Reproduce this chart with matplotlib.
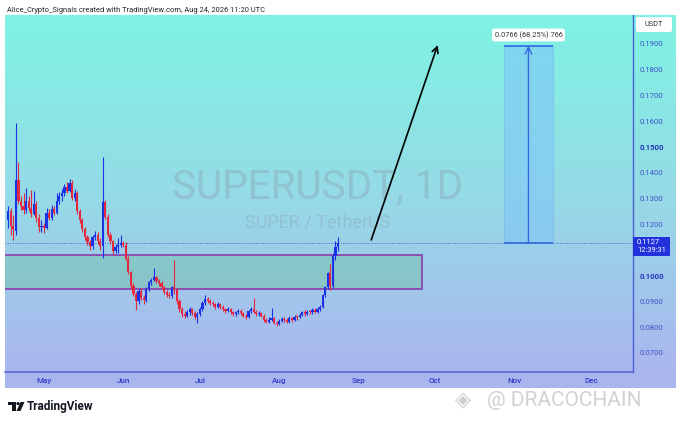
import numpy as np
import pandas as pd
import matplotlib
matplotlib.use('Agg')
import matplotlib.pyplot as plt
import matplotlib.dates as mdates
from matplotlib.patches import Rectangle, FancyBboxPatch, Polygon, Circle
from matplotlib.colors import LinearSegmentedColormap

# ---------------- data (daily SUPER/USDT candles) ----------------
start_date = "2026-04-17"
opens = [.1215, .1250, .1195, .1175, .1372, .1290, .1270, .1255, .1290, .1265,
         .1240, .1280, .1225, .1190, .1195, .1185, .1245, .1225, .1260, .1245,
         .1290, .1310, .1320, .1345, .1330, .1360, .1300, .1320, .1250, .1215,
         .1180, .1150, .1130, .1115, .1150, .1160, .1135, .1115, .1285, .1230,
         .1160, .1135, .1095, .1110, .1120, .1128, .1120, .1065, .1015, .0960,
         .0930, .0900, .0940, .0915, .0905, .0950, .0975, .0985, .0995, .0980,
         .0970, .0955, .0935, .0925, .0920, .0955, .0945, .0900, .0870, .0850,
         .0845, .0860, .0870, .0855, .0840, .0850, .0870, .0895, .0910, .0900,
         .0895, .0890, .0880, .0890, .0878, .0870, .0862, .0870, .0858, .0850,
         .0858, .0865, .0855, .0845, .0840, .0862, .0872, .0860, .0850, .0855,
         .0845, .0830, .0822, .0830, .0835, .0818, .0812, .0825, .0832, .0828,
         .0820, .0835, .0828, .0840, .0838, .0848, .0858, .0850, .0860, .0858,
         .0868, .0860, .0870, .0880, .0925, .0955, .1010, .0960, .1075, .1110]
highs = [.1270, .1265, .1235, .1593, .1442, .1310, .1320, .1340, .1310, .1333,
         .1330, .1290, .1240, .1215, .1205, .1265, .1260, .1275, .1270, .1320,
         .1325, .1335, .1355, .1365, .1375, .1370, .1335, .1330, .1260, .1225,
         .1190, .1160, .1140, .1160, .1175, .1168, .1145, .1461, .1295, .1240,
         .1170, .1140, .1125, .1145, .1158, .1135, .1130, .1075, .1020, .0970,
         .0935, .0950, .0948, .0925, .0958, .0980, .0990, .1030, .1000, .0988,
         .0978, .0962, .0945, .0935, .0962, .1061, .0952, .0910, .0880, .0862,
         .0868, .0878, .0876, .0862, .0858, .0878, .0900, .0925, .0918, .0908,
         .0902, .0896, .0898, .0895, .0885, .0876, .0878, .0875, .0864, .0865,
         .0872, .0870, .0860, .0852, .0868, .0880, .0914, .0866, .0862, .0860,
         .0850, .0836, .0838, .0875, .0840, .0825, .0832, .0840, .0838, .0835,
         .0842, .0840, .0848, .0846, .0855, .0865, .0868, .0866, .0868, .0875,
         .0874, .0878, .0888, .0930, .0960, .1015, .1045, .1090, .1135, .1150]
lows = [.1185, .1160, .1140, .1160, .1280, .1255, .1240, .1245, .1250, .1230,
        .1235, .1210, .1170, .1170, .1165, .1180, .1215, .1215, .1235, .1240,
        .1280, .1290, .1310, .1320, .1325, .1295, .1290, .1240, .1205, .1170,
        .1140, .1120, .1100, .1105, .1140, .1125, .1100, .1069, .1220, .1150,
        .1125, .1085, .1088, .1090, .1110, .1110, .1060, .1005, .0950, .0920,
        .0867, .0890, .0905, .0890, .0898, .0940, .0965, .0978, .0972, .0962,
        .0948, .0928, .0918, .0912, .0915, .0930, .0892, .0860, .0838, .0835,
        .0838, .0848, .0848, .0832, .0815, .0845, .0865, .0888, .0895, .0888,
        .0882, .0872, .0875, .0872, .0862, .0855, .0858, .0850, .0842, .0845,
        .0852, .0848, .0838, .0832, .0836, .0855, .0855, .0842, .0845, .0838,
        .0822, .0815, .0818, .0825, .0812, .0805, .0808, .0820, .0822, .0815,
        .0816, .0822, .0824, .0830, .0834, .0842, .0845, .0846, .0850, .0852,
        .0855, .0856, .0865, .0875, .0918, .0948, .0945, .0952, .1060, .1095]
closes = [.1250, .1195, .1180, .1372, .1290, .1270, .1255, .1290, .1265, .1240,
          .1280, .1225, .1190, .1195, .1185, .1245, .1225, .1260, .1245, .1290,
          .1310, .1320, .1345, .1330, .1360, .1300, .1320, .1250, .1215, .1180,
          .1150, .1130, .1115, .1150, .1160, .1135, .1115, .1285, .1230, .1160,
          .1135, .1095, .1110, .1120, .1128, .1120, .1065, .1015, .0960, .0930,
          .0900, .0940, .0915, .0905, .0950, .0975, .0985, .0995, .0980, .0970,
          .0955, .0935, .0925, .0920, .0955, .0945, .0900, .0870, .0850, .0845,
          .0860, .0870, .0855, .0840, .0850, .0870, .0895, .0910, .0900, .0895,
          .0890, .0880, .0890, .0878, .0870, .0862, .0870, .0858, .0850, .0858,
          .0865, .0855, .0845, .0840, .0862, .0872, .0860, .0850, .0855, .0845,
          .0830, .0822, .0830, .0835, .0818, .0812, .0825, .0832, .0828, .0820,
          .0835, .0828, .0840, .0838, .0848, .0858, .0850, .0860, .0858, .0868,
          .0860, .0870, .0880, .0925, .0955, .1010, .0960, .1075, .1110, .1127]

last_price = 0.1127
zone_low, zone_high = 0.0949, 0.1081
zone_end = "2026-09-26"
measure_start, measure_end = "2026-10-28", "2026-11-16"
measure_low, measure_high = 0.1127, 0.1893
measure_label = "0.0766 (68.25%) 766"
arrow_from = ("2026-09-06", 0.1139)
arrow_to = ("2026-10-02", 0.1896)
price_ticks = [0.07, 0.08, 0.09, 0.10, 0.12, 0.13, 0.14, 0.15, 0.16, 0.17, 0.18, 0.19]
bold_ticks = [0.10, 0.15]

# ---------------- figure ----------------
W, H = 679, 423
fig = plt.figure(figsize=(W / 100, H / 100), dpi=100)
fig.patch.set_facecolor('white')
plt.rcParams['font.family'] = ['Roboto', 'DejaVu Sans']

def fx(px):
    return px / W

def fy(py):
    return 1 - py / H

# gradient background + bottom strip (pixel coords)
bg = fig.add_axes([0, 0, 1, 1], zorder=0)
grad = np.linspace(0, 1, 256).reshape(-1, 1)
cmap = LinearSegmentedColormap.from_list('g', ['#7ff3e3', '#95dbe6', '#abb6ef'])
bg.imshow(grad, aspect='auto', cmap=cmap, extent=[5, 676, 372, 15], origin='upper')
bg.add_patch(Rectangle((5, 372), 671, 16, facecolor='#a9b5ee', edgecolor='none'))
bg.set_xlim(0, W)
bg.set_ylim(H, 0)
bg.axis('off')

# overlay in pixel coords for decorations
ov = fig.add_axes([0, 0, 1, 1], zorder=5)
ov.set_xlim(0, W)
ov.set_ylim(H, 0)
ov.axis('off')

ax = fig.add_axes([fx(5), fy(372), fx(633) - fx(5), fy(15) - fy(372)], zorder=2)
ax.set_facecolor('none')

dates = pd.date_range(start_date, periods=len(closes), freq='D')
x = mdates.date2num(dates)
o = np.array(opens); h = np.array(highs); l = np.array(lows); c = np.array(closes)
up = c >= o
col = np.where(up, '#1b31e6', '#e4283e')

x0 = mdates.date2num(pd.Timestamp(start_date))
ax.set_xlim(x0 - 1.25, x0 + 244.4)
ax.set_ylim(0.06262, 0.20126)

# zone
ze = mdates.date2num(pd.Timestamp(zone_end))
ax.add_patch(Rectangle((x0 - 5, zone_low), ze - (x0 - 5), zone_high - zone_low,
                       facecolor='#6cc0a0', alpha=0.45, edgecolor='none', zorder=1))
ax.add_patch(Rectangle((x0 - 5, zone_low), ze - (x0 - 5), zone_high - zone_low,
                       facecolor='none', edgecolor='#8a46b0', lw=1.3, zorder=1.5))

# current price dotted line
ax.axhline(last_price, color='#4a66c8', ls=(0, (1, 1.5)), lw=0.7, zorder=1.2)

# candles
ax.vlines(x, l, h, colors=col, lw=0.8, zorder=3)
body_h = np.maximum(np.abs(c - o), 0.0004)
ax.bar(x, body_h, bottom=np.minimum(o, c), width=0.85, color=col, zorder=4, linewidth=0)

# measurement box
ms = mdates.date2num(pd.Timestamp(measure_start))
me = mdates.date2num(pd.Timestamp(measure_end))
ax.add_patch(Rectangle((ms, measure_low), me - ms, measure_high - measure_low,
                       facecolor='#7fc6f6', alpha=0.6, edgecolor='#6aa8ea', lw=0.5, zorder=2))
ax.hlines([measure_low, measure_high], ms, me, colors='#3566e0', lw=1.2, zorder=2.5)
mid = (ms + me) / 2
ax.annotate('', xy=(mid, measure_high), xytext=(mid, measure_low),
            arrowprops=dict(arrowstyle='->', color='#3566e0', lw=1.0, mutation_scale=12,
                            shrinkA=0, shrinkB=0), zorder=2.6)
ax.text(mid, 0.1935, measure_label, ha='center', va='center', fontsize=5.3, color='#333333',
        bbox=dict(boxstyle='round,pad=0.35,rounding_size=0.3', facecolor='white',
                  edgecolor='none'), zorder=6)

# projection arrow
ax.annotate('', xy=(mdates.date2num(pd.Timestamp(arrow_to[0])), arrow_to[1]),
            xytext=(mdates.date2num(pd.Timestamp(arrow_from[0])), arrow_from[1]),
            arrowprops=dict(arrowstyle='->', color='black', lw=1.2, mutation_scale=11,
                            shrinkA=0, shrinkB=0), zorder=6)

# watermark
ax.text(0.498, 0.518, 'SUPERUSDT, 1D', transform=ax.transAxes, ha='center', va='center',
        fontsize=29, color='#8aa2b4', alpha=0.42, zorder=0.5)
ax.text(0.498, 0.42, 'SUPER / TetherUS', transform=ax.transAxes, ha='center', va='center',
        fontsize=13, color='#8aa2b4', alpha=0.42, zorder=0.5)

# axes styling
for s in ['top', 'left']:
    ax.spines[s].set_visible(False)
ax.spines['right'].set_color('#4a5ed6')
ax.spines['bottom'].set_color('#5a68d0')
ax.spines['right'].set_linewidth(1.0)
ax.spines['bottom'].set_linewidth(1.2)

ax.yaxis.tick_right()
ax.set_yticks(price_ticks)
ax.set_yticklabels([f'{t:.4f}' for t in price_ticks])
for lab, t in zip(ax.get_yticklabels(), price_ticks):
    if any(abs(t - b) < 1e-9 for b in bold_ticks):
        lab.set_fontweight('bold')
        lab.set_color('#2436b8')
    else:
        lab.set_color('#3f52c8')
ax.tick_params(axis='y', length=0, pad=5, labelsize=5.6)

ax.xaxis.set_major_locator(mdates.MonthLocator())
ax.xaxis.set_major_formatter(mdates.DateFormatter('%b'))
ax.tick_params(axis='x', length=0, pad=4.5, labelsize=5.8, labelcolor='#2a3cc4')
for lab in ax.get_xticklabels():
    lab.set_fontweight('medium')

# right-axis decorations
ov.add_patch(FancyBboxPatch((636, 17), 36, 15, boxstyle='round,pad=0,rounding_size=2',
                            facecolor='white', edgecolor='none'))
ov.text(654, 24.5, 'USDT', ha='center', va='center', fontsize=5.3, color='#333333')
ov.add_patch(Rectangle((633, 237.5), 37, 18.5, facecolor='#2233dd', edgecolor='none'))
ov.text(637, 242.8, '0.1127', ha='left', va='center', fontsize=5.4, color='white')
ov.text(637, 251, '12:39:31', ha='left', va='center', fontsize=5.4, color='white')

# header
ov.text(7, 10, 'Alice_Crypto_Signals created with TradingView.com, Aug 24, 2026 11:20 UTC',
        ha='left', va='center', fontsize=5.4, color='#222222')

# TradingView logo
ov.add_patch(Rectangle((8, 402), 8, 3, facecolor='#131722', edgecolor='none'))
ov.add_patch(Rectangle((12, 402), 3.5, 9, facecolor='#131722', edgecolor='none'))
ov.add_patch(Circle((18, 403.6), 1.6, facecolor='#131722', edgecolor='none'))
ov.add_patch(Polygon([(20.5, 402), (24.5, 402), (20.5, 411), (16.5, 411)], closed=True,
                     facecolor='#131722', edgecolor='none'))
ov.text(27, 406.5, 'TradingView', ha='left', va='center', fontsize=8.5, fontweight='bold',
        color='#131722')

# bottom-right watermark
ov.text(455, 400, '◈', ha='left', va='center', fontsize=15, color='#d0d0d0',
        family=['DejaVu Sans'])
ov.text(487, 400, '@ DRACOCHAIN', ha='left', va='center', fontsize=15, color='#d2d2d2')

fig.savefig('out.png', dpi=100, facecolor='white')
